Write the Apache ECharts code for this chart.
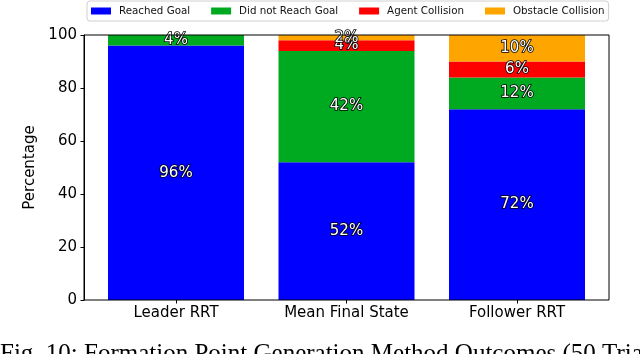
<!DOCTYPE html>
<html>
<head>
<meta charset="utf-8">
<script src="https://cdn.jsdelivr.net/npm/echarts@6/dist/echarts.min.js"></script>
<style>
html,body{margin:0;padding:0;background:#fff;}
#chart{width:640px;height:354px;}
</style>
</head>
<body>
<div id="chart"></div>
<script>
const categories = ['Leader RRT', 'Mean Final State', 'Follower RRT'];
const seriesNames = ['Reached Goal', 'Did not Reach Goal', 'Agent Collision', 'Obstacle Collision'];
const reachedGoal = [96, 52, 72];
const didNotReach = [4, 42, 12];
const agentCollision = [0, 4, 6];
const obstacleCollision = [0, 2, 10];
const yTicks = [0, 20, 40, 60, 80, 100];
const colors = ['#0000FF', '#00AA20', '#FF0000', '#FFA500'];
const caption = 'Fig. 10: Formation Point Generation Method Outcomes (50 Trials)';

const allValues = [reachedGoal, didNotReach, agentCollision, obstacleCollision];
const font = 'DejaVu Sans';

const chart = echarts.init(document.getElementById('chart'), null, {renderer: 'canvas'});

const series = allValues.map((vals, k) => ({
  name: seriesNames[k],
  type: 'bar',
  stack: 'total',
  xAxisIndex: 0,
  yAxisIndex: 0,
  barWidth: 136,
  itemStyle: {color: colors[k]},
  data: vals,
  label: {
    show: true,
    position: 'inside',
    formatter: p => (p.value > 0 ? p.value + '%' : ''),
    color: '#fff',
    textBorderColor: '#000',
    textBorderWidth: 1.6,
    fontFamily: font,
    fontSize: 15
  }
}));

chart.setOption({
  animation: false,
  backgroundColor: '#fff',
  grid: [
    {left: 90.75, width: 511.5, top: 35, bottom: 54},
    {left: 84, right: 31, top: 35, bottom: 54, show: true, borderColor: '#000', borderWidth: 1, backgroundColor: 'transparent', z: 5}
  ],
  legend: {
    data: seriesNames,
    left: 87, top: 1,
    padding: [5, 4, 5, 4],
    itemWidth: 20, itemHeight: 7, itemGap: 21,
    icon: 'rect',
    backgroundColor: '#fff',
    borderColor: '#d0d0d0', borderWidth: 1, borderRadius: 3,
    textStyle: {fontFamily: font, fontSize: 10.3, color: '#111', padding: [0, 0, 0, 3]}
  },
  xAxis: [
    {
      type: 'category',
      gridIndex: 0,
      data: categories,
      boundaryGap: true,
      axisLine: {show: false},
      axisTick: {show: true, alignWithLabel: true, length: 3.5, lineStyle: {color: '#000'}},
      axisLabel: {fontFamily: font, fontSize: 15, color: '#000', margin: 6}
    },
    {
      type: 'value',
      gridIndex: 1,
      min: 0, max: 1,
      show: false
    }
  ],
  yAxis: [
    {
      type: 'value',
      gridIndex: 0,
      min: 0, max: 100, interval: 20,
      show: false
    },
    {
      type: 'value',
      gridIndex: 1,
      min: 0, max: 100, interval: 20,
      name: 'Percentage',
      nameLocation: 'middle',
      nameGap: 40,
      nameTextStyle: {fontFamily: font, fontSize: 15, color: '#000'},
      splitLine: {show: false},
      axisLine: {show: true, lineStyle: {color: '#000', width: 1}},
      axisTick: {show: true, length: 3.5, lineStyle: {color: '#000'}},
      axisLabel: {
        formatter: v => (yTicks.indexOf(v) >= 0 ? String(v) : ''),
        fontFamily: font, fontSize: 15, color: '#000', margin: 7
      }
    }
  ],
  graphic: [{
    type: 'text',
    x: 0, y: 342,
    style: {
      text: caption,
      font: '25px "Liberation Serif"',
      fill: '#000',
      verticalAlign: 'top',
      align: 'left'
    }
  }],
  series: series
});
</script>
</body>
</html>
